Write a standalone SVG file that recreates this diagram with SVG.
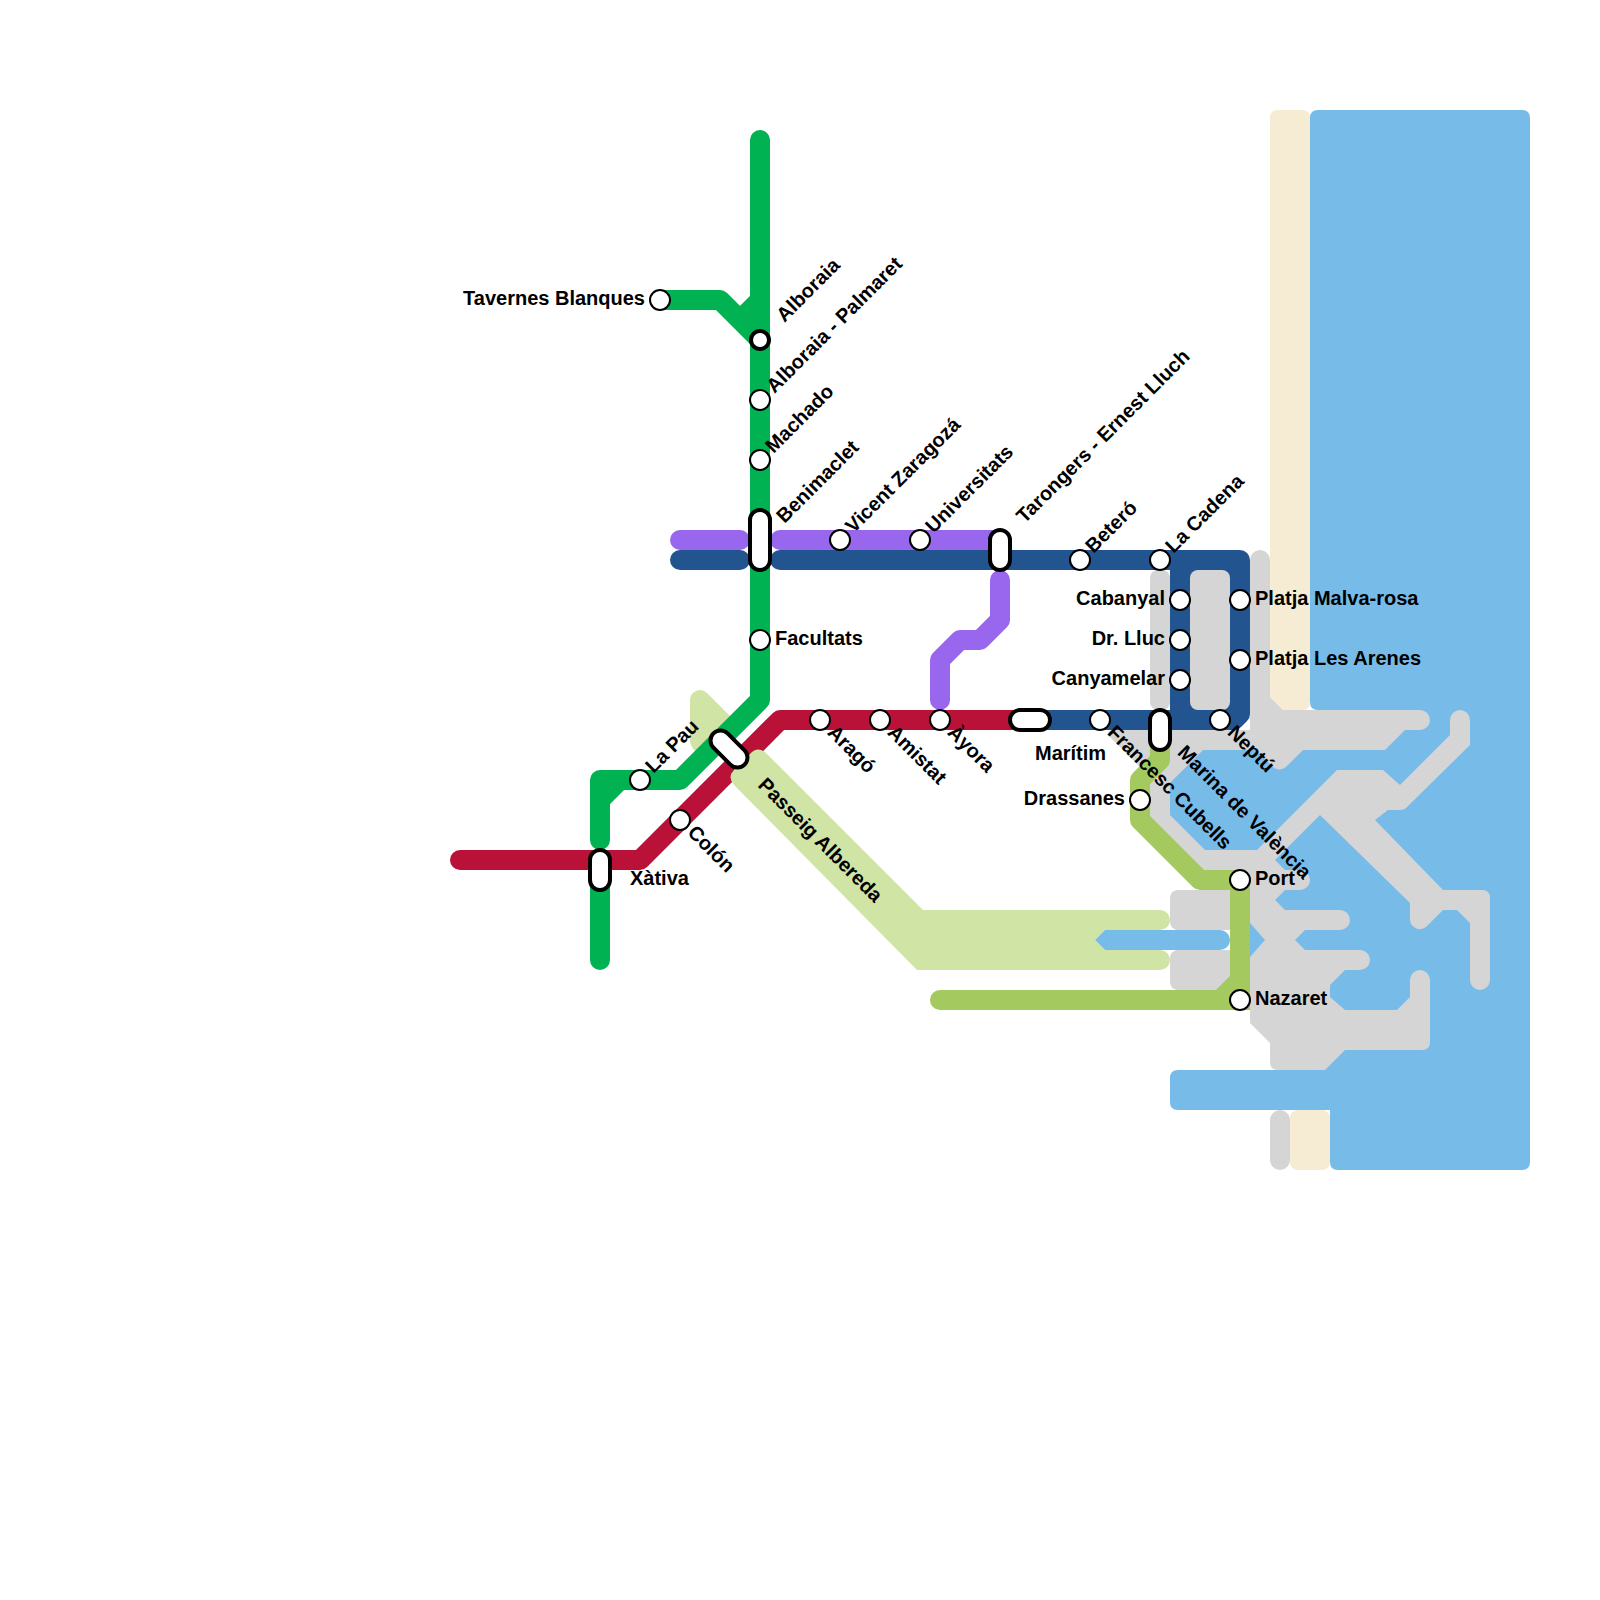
<svg xmlns="http://www.w3.org/2000/svg" width="1600" height="1600" viewBox="0 0 1600 1600">
<style>
text{font-family:"Liberation Sans",Arial,sans-serif;font-weight:700;font-size:20px;fill:#000}
.e{text-anchor:end}
.l{fill:none;stroke-width:20;stroke-linecap:round;stroke-linejoin:round}
.st{fill:#fff;stroke:#000;stroke-width:2}
.ic{fill:#fff;stroke:#000;stroke-width:4}
.g{fill:#d5d5d5}.w{fill:#77bbe8}.t{fill:#f5ecd3}.lg{fill:#cfe4a5}
</style>
<rect width="1600" height="1600" fill="#fff"/>
<g id="terrain">
<path class="t" d="M1278,110H1302Q1310,110 1310,118V702Q1310,710 1302,710H1283L1270,697V118Q1270,110 1278,110Z"/>
<rect class="t" x="1290" y="1110" width="40" height="60" rx="8"/>
<path class="w" d="M1318,110H1522Q1530,110 1530,118V1162Q1530,1170 1522,1170H1338Q1330,1170 1330,1162V1110H1178Q1170,1110 1170,1102V1078Q1170,1070 1178,1070H1310V718Q1310,710 1318,710Q1310,710 1310,702V118Q1310,110 1318,110Z"/>
<path class="w" d="M1203,745H1320V860H1205L1170,820V780Z"/>
<rect class="w" x="1245" y="850" width="70" height="130"/>
<path class="g" d="M1250,560A10,10 0 0 1 1270,560V697L1283,710H1420A10,10 0 0 1 1420,730H1405L1385,750H1303L1288,765Q1280,773 1273,767L1256,750H1203L1170,783V815L1205,850H1257L1337,770H1383L1400,785L1450,735V720A10,10 0 0 1 1470,720V745L1408,806Q1405,810 1400,810H1388L1375,820L1443,890H1482Q1490,890 1490,898V980A10,10 0 0 1 1470,980V923L1457,910H1443L1426,927A10,10 0 0 1 1410,920V903L1320,815L1275,860L1285,870H1300A10,10 0 0 1 1300,890H1285L1275,900L1285,910H1340A10,10 0 0 1 1340,930H1305L1295,940L1305,950H1360A10,10 0 0 1 1360,970H1345L1330,985V997L1345,1010H1397L1410,997V980A10,10 0 0 1 1430,980V1042Q1430,1050 1422,1050H1345L1325,1070H1278Q1270,1070 1270,1062V1043L1250,1023V957L1265,940L1250,923V880H1195L1140,815V767L1110,737Q1105,730 1115,730H1250Z"/>
<rect class="g" x="1150" y="570" width="20" height="140" rx="8"/>
<rect class="g" x="1170" y="890" width="70" height="40" rx="8"/>
<rect class="g" x="1170" y="950" width="70" height="40" rx="8"/>
<rect class="g" x="1270" y="1110" width="20" height="60" rx="10"/>
<path class="lg" d="M690,700A10,10 0 0 1 707,693L735,721L700,755Q692,750 690,742Z"/>
</g>
<g id="connectors">
<path class="l" stroke="#00b251" d="M600,840V780H680L760,700V140M600,800L620,780M600,880V960M660,300H720L760,340M760,300L740,320"/>
<path class="l" stroke="#ba1139" d="M460,860H640L780,720H1020"/>
<path class="lg" d="M752,752Q760,746 768,755L923,910H1160A10,10 0 0 1 1160,930H1105L1095,940L1105,950H1160A10,10 0 0 1 1160,970H917L734,785Q727,777 734,770Z"/>
<path class="w" d="M1105,930H1220A10,10 0 0 1 1220,950H1105L1095,940Z"/>
<path class="l" stroke="#a3c95f" d="M1160,740V760L1140,780V820L1200,880H1240V1000M1240,980L1220,1000M1240,1000H940"/>
<path fill="#a3c95f" d="M1230,990H1250V1010H1230Z"/>
<path class="l" stroke="#9966ee" d="M680,540H740M780,540H1000M1000,580V620L980,640H960L940,660V700"/>
<path class="l" stroke="#225590" d="M680,560H740M780,560H1240V714L1234,720H1030M1180,560V720"/>
<path fill="#225590" d="M1190,570H1230V710H1190Z"/>
</g>
<rect id="island" class="g" x="1190" y="570" width="40" height="140" rx="8"/>
<g id="alboraia"><circle cx="760" cy="340" r="9" class="ic"/><text transform="translate(784.5,323) rotate(-45)">Alboraia</text></g>
<g id="palmaret"><circle cx="760" cy="400" r="10" class="st"/><text transform="translate(774.5,394) rotate(-45)">Alboraia - Palmaret</text></g>
<g id="tavernes"><circle cx="660" cy="300" r="10" class="st"/><text class="e" x="645" y="305">Tavernes Blanques</text></g>
<g id="machado"><circle cx="760" cy="460" r="10" class="st"/><text transform="translate(773.5,454) rotate(-45)">Machado</text></g>
<g id="benimaclet"><rect x="750" y="510" width="20" height="60" rx="10" class="ic"/><text transform="translate(784.5,524) rotate(-45)">Benimaclet</text></g>
<g id="facultats"><circle cx="760" cy="640" r="10" class="st"/><text x="775" y="645">Facultats</text></g>
<g id="vicent"><circle cx="840" cy="540" r="10" class="st"/><text transform="translate(853.5,534) rotate(-45)">Vicent Zaragozá</text></g>
<g id="universitats"><circle cx="920" cy="540" r="10" class="st"/><text transform="translate(933.5,534) rotate(-45)">Universitats</text></g>
<g id="tarongers"><rect x="990" y="530" width="20" height="40" rx="10" class="ic"/><text transform="translate(1024.5,524) rotate(-45)">Tarongers - Ernest Lluch</text></g>
<g id="betero"><circle cx="1080" cy="560" r="10" class="st"/><text transform="translate(1093.5,554) rotate(-45)">Beteró</text></g>
<g id="cadena"><circle cx="1160" cy="560" r="10" class="st"/><text transform="translate(1173.5,554) rotate(-45)">La Cadena</text></g>
<g id="cabanyal"><circle cx="1180" cy="600" r="10" class="st"/><text class="e" x="1165" y="605">Cabanyal</text></g>
<g id="lluc"><circle cx="1180" cy="640" r="10" class="st"/><text class="e" x="1165" y="645">Dr. Lluc</text></g>
<g id="canyamelar"><circle cx="1180" cy="680" r="10" class="st"/><text class="e" x="1165" y="685">Canyamelar</text></g>
<g id="malvarosa"><circle cx="1240" cy="600" r="10" class="st"/><text x="1255" y="605">Platja Malva-rosa</text></g>
<g id="arenes"><circle cx="1240" cy="660" r="10" class="st"/><text x="1255" y="665">Platja Les Arenes</text></g>
<g id="neptu"><circle cx="1220" cy="720" r="10" class="st"/><text transform="translate(1226.5,733.5) rotate(45)">Neptú</text></g>
<g id="marina"><rect x="1150" y="710" width="20" height="40" rx="10" class="ic"/><text transform="translate(1176.5,753.5) rotate(45)">Marina de València</text></g>
<g id="francesc"><circle cx="1100" cy="720" r="10" class="st"/><text transform="translate(1106.5,733.5) rotate(45)">Francesc Cubells</text></g>
<g id="maritim"><rect x="1010" y="710" width="40" height="20" rx="10" class="ic"/><text x="1035" y="760">Marítim</text></g>
<g id="drassanes"><circle cx="1140" cy="800" r="10" class="st"/><text class="e" x="1125" y="805">Drassanes</text></g>
<g id="port"><circle cx="1240" cy="880" r="10" class="st"/><text x="1255" y="885">Port</text></g>
<g id="nazaret"><circle cx="1240" cy="1000" r="10" class="st"/><text x="1255" y="1005">Nazaret</text></g>
<g id="ayora"><circle cx="940" cy="720" r="10" class="st"/><text transform="translate(946.5,733.5) rotate(45)">Àyora</text></g>
<g id="amistat"><circle cx="880" cy="720" r="10" class="st"/><text transform="translate(886.5,733.5) rotate(45)">Amistat</text></g>
<g id="arago"><circle cx="820" cy="720" r="10" class="st"/><text transform="translate(826.5,733.5) rotate(45)">Aragó</text></g>
<g id="alameda"><rect x="707" y="739" width="44" height="20" rx="10" class="ic" transform="rotate(45 729 749)"/><text transform="translate(757,786) rotate(45)">Passeig Albereda</text></g>
<g id="colon"><circle cx="680" cy="820" r="10" class="st"/><text transform="translate(686.5,833.5) rotate(45)">Colón</text></g>
<g id="lapau"><circle cx="640" cy="780" r="10" class="st"/><text transform="translate(653.5,774) rotate(-45)">La Pau</text></g>
<g id="xativa"><rect x="590" y="850" width="20" height="40" rx="10" class="ic"/><text x="630" y="885">Xàtiva</text></g>
</svg>
